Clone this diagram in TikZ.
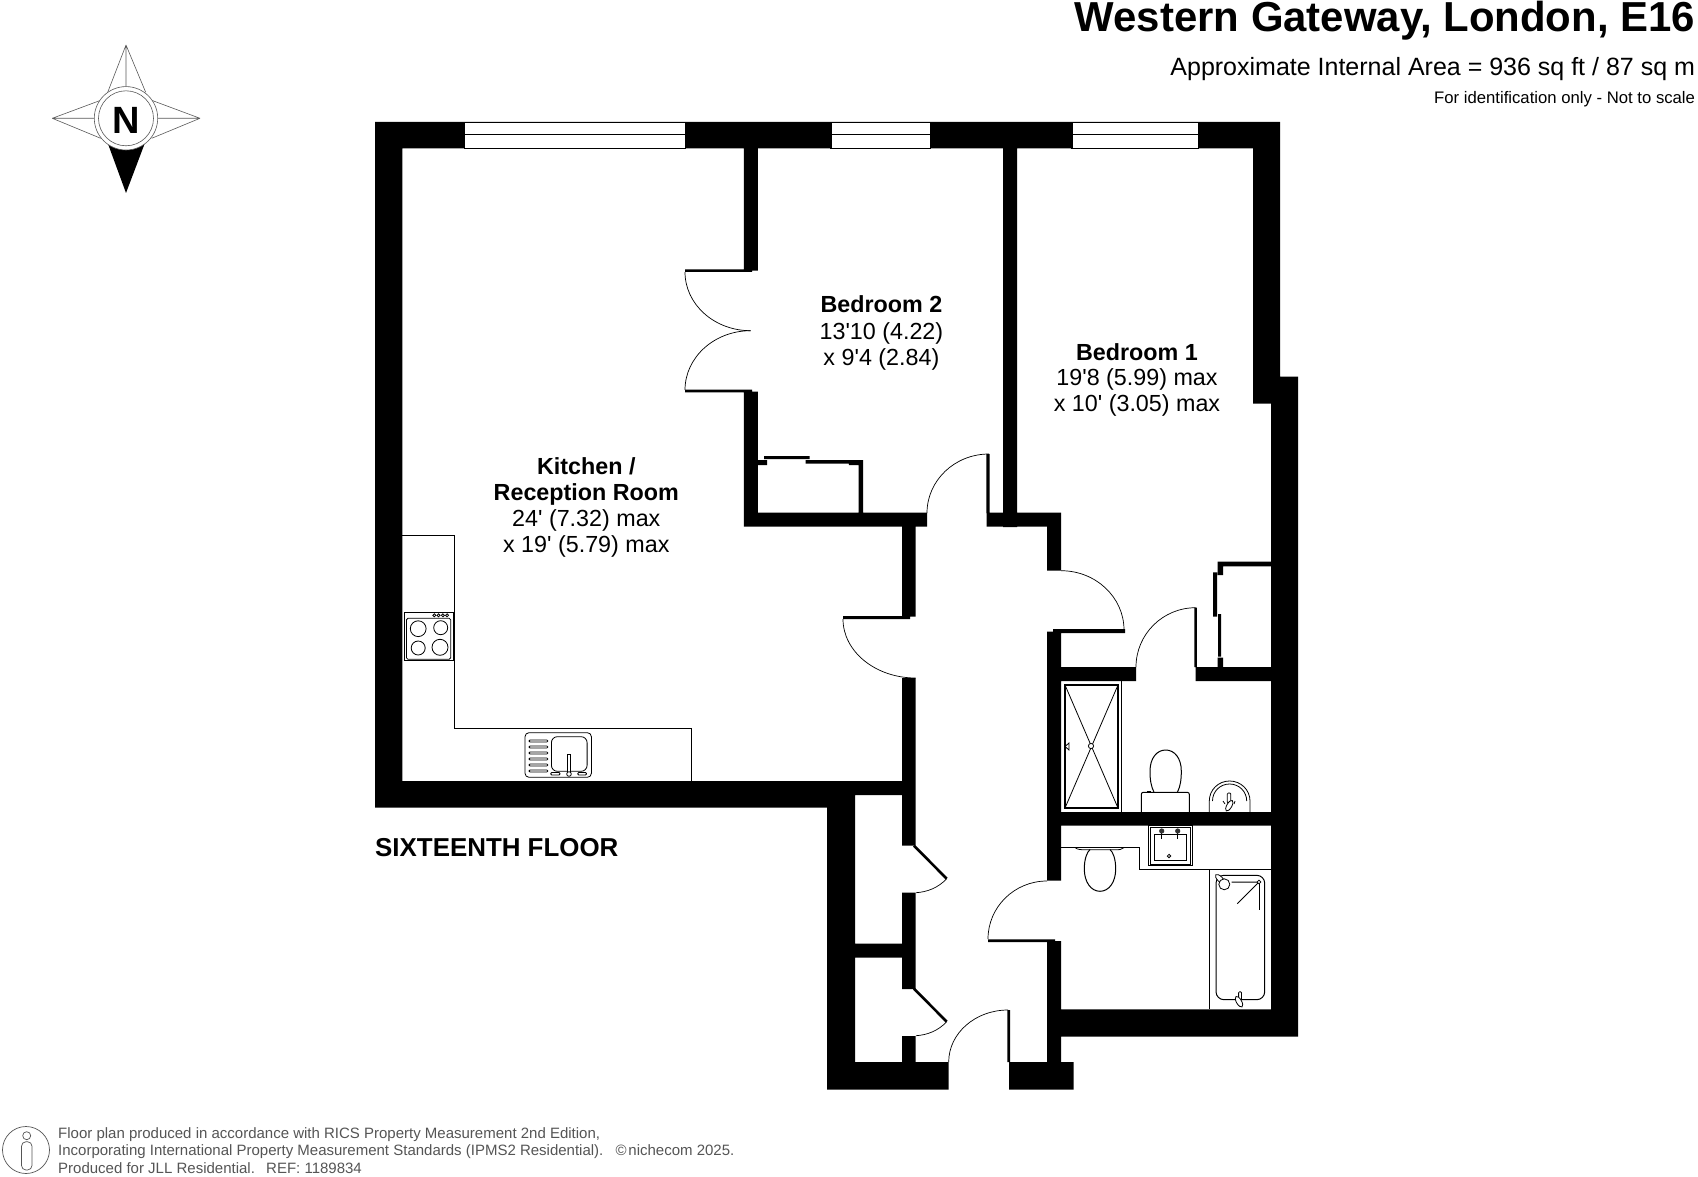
\documentclass[tikz,border=0pt]{standalone}
\usepackage{fontspec}
\usetikzlibrary{calc}
\newfontfamily\lib{Liberation Sans}
\newcommand{\fsz}[1]{\lib\fontsize{#1}{#1}\selectfont}
\tikzset{
  lbl/.style={inner sep=0pt,outer sep=0pt,anchor=base,font=\fsz{23.3}},
  lblb/.style={lbl,font=\fsz{23.3}\bfseries},
  ttl/.style={inner sep=0pt,outer sep=0pt,anchor=base east},
  foot/.style={inner sep=0pt,outer sep=0pt,anchor=base west,text=footgrey,font=\fsz{15}},
  thinl/.style={draw=black,line width=1pt},
  fine/.style={draw=black,line width=0.8pt},
  arcline/.style={draw=black,line width=0.7pt},
  leaf/.style={draw=black,line width=2.6pt},
  winl/.style={draw=black,fill=white,line width=1.1pt},
  star/.style={draw=black!65,line width=0.6pt},
}
\definecolor{footgrey}{HTML}{555555}
\newcommand{\qarc}[3]{\draw[arcline] (#1) .. controls ($(#1)!.5523!(#3)$) and ($(#2)!.5523!(#3)$) .. (#2);}
\begin{document}
\begin{tikzpicture}[x=1pt,y=-1pt]
\useasboundingbox (0,0) rectangle (1698,1177);
\fill[white] (0,0) rectangle (1698,1177);

% walls
\fill[black]
 (375.2,122) rectangle (1280,148.3)
 (375.2,122) rectangle (402.4,807.7)
 (375.2,781) rectangle (915.7,795)
 (375.2,781) rectangle (855,807.7)
 (827,795) rectangle (855,1089.7)
 (902,526.7) rectangle (915.7,616.7)
 (902,678) rectangle (915.7,845.7)
 (902,892.7) rectangle (915.7,989)
 (902,1036) rectangle (915.7,1062)
 (855,943.7) rectangle (902,957.7)
 (827,1062) rectangle (948.7,1089.7)
 (743.9,148) rectangle (757.8,270.7)
 (743.9,391.7) rectangle (757.8,526.7)
 (743.9,512.7) rectangle (927,526.7)
 (1003,148) rectangle (1017,527)
 (986.7,512.7) rectangle (1061,526.7)
 (1047,512.7) rectangle (1061,570.7)
 (1047,631.7) rectangle (1061,880.7)
 (1047,941) rectangle (1061,1089.7)
 (1009,1062) rectangle (1073.7,1089.7)
 (1047,1009.3) rectangle (1298,1036.7)
 (1253,122) rectangle (1280,403.7)
 (1271,376.7) rectangle (1298,1036.7)
 (1047,667) rectangle (1136,681)
 (1195.7,667) rectangle (1271,681)
 (1047,812) rectangle (1271,825.7)
 % door leaves and fitted cupboards
 (685,269.4) rectangle (752,272)
 (685,389.7) rectangle (752,392.3)
 (986.4,454) rectangle (989.6,513)
 (843,616) rectangle (910,619)
 (988,939.3) rectangle (1055,942)
 (1007.3,1010) rectangle (1010,1062)
 (1053,629) rectangle (1125,633)
 (1194.3,607.7) rectangle (1196.8,667)
 % bedroom 2 wardrobe
 (757,460) rectangle (767,465)
 (764,456) rectangle (809.6,459)
 (805.5,460) rectangle (848.8,463.7)
 (848.8,460) rectangle (863,465)
 (858.7,460) rectangle (863,513)
 % bedroom 1 wardrobe
 (1217.7,561.7) rectangle (1271,566.3)
 (1217.7,561.7) rectangle (1223,575)
 (1213,572.3) rectangle (1217,616.7)
 (1218,614) rectangle (1221,656.7)
 (1217.7,657.7) rectangle (1223,667);

% windows
\draw[winl] (464.5,122.5) rectangle (685.9,148.3); \draw[thinl] (464.5,135) -- (685.9,135);
\draw[winl] (831,122.5) rectangle (930.5,148.3); \draw[thinl] (831,135) -- (930.5,135);
\draw[winl] (1072,122.5) rectangle (1198.3,148.3); \draw[thinl] (1072,135) -- (1198.3,135);

% door arcs
\qarc{685,272}{750.6,330.7}{685,330.7}
\qarc{685,390}{750.6,330.7}{685,330.7}
\qarc{989,454}{927,513}{927,454}
\qarc{843,619}{915.7,678}{843,678}
\qarc{1008,1010}{948.7,1062}{948.7,1010}
\qarc{1047,881}{988,939}{988,881}
\qarc{1061,570.7}{1124,630}{1124,570.7}
\qarc{1195.7,607.7}{1136,667}{1136,607.7}
\draw[leaf] (914,845.7) -- (946.7,878.7);
\draw[leaf] (914,988.7) -- (946.7,1021.7);
\draw[arcline] (946.7,878.7) .. controls (938,888) and (927,892) .. (916,892.7);
\draw[arcline] (946.7,1021.7) .. controls (938,1031) and (927,1035) .. (916,1035.7);

% kitchen
\draw[thinl] (402.4,535.3) -- (454.3,535.3) -- (454.3,728.3) -- (691.8,728.3) -- (691.8,781);
\draw[fine] (404.3,612.3) rectangle (452.9,660.7);
\draw[fine,rounded corners=1.5pt] (406.4,618.3) rectangle (450.7,659.3);
\draw[fine] (418.2,628.7) circle[radius=7.9] (440.7,627.7) circle[radius=7] (418.2,648) circle[radius=7] (440,647.3) circle[radius=8];
\draw[fine] (434.3,615.3) circle[radius=1.5] (438.6,615.3) circle[radius=1.5] (442.9,615.3) circle[radius=1.5] (447.1,615.3) circle[radius=1.5];
\draw[fine,rounded corners=4pt] (525,732.7) rectangle (591.4,777.3);
\draw[fine,rounded corners=6pt] (551.4,736.7) rectangle (587.1,771.3);
\foreach \y in {740,746,752,758,764,770}
  \draw[fine,rounded corners=1pt] (529,\y) rectangle (547.9,\y+2);
\draw[fine,fill=white] (567.5,754) rectangle (570.5,773);
\draw[fine,fill=white] (569,774) circle[radius=2.3];
\draw[fine,rounded corners=1pt] (550.7,772.5) rectangle (560,775);
\draw[fine,rounded corners=1pt] (577.7,772.5) rectangle (586.5,775);

% shower room
\draw[thinl] (1121.7,681) -- (1121.7,812);
\draw[fine] (1064.3,684) rectangle (1118.7,808.7);
\draw[fine] (1065.5,685) rectangle (1117.5,807.5);
\draw[fine] (1065,685) -- (1118,808) (1118,685) -- (1065,808);
\draw[fine,fill=white] (1091,746) circle[radius=2.6];
\draw[fine] (1069,743) -- (1065,746.5) -- (1069,750) -- cycle;
\draw[thinl] (1154,792.3) .. controls (1151,786) and (1150,780) .. (1150,771) .. controls (1150,758) and (1157,750) .. (1165.7,750) .. controls (1174.4,750) and (1181.3,758) .. (1181.3,771) .. controls (1181.3,780) and (1180.4,786) .. (1177.4,792.3);
\draw[thinl,rounded corners=2pt] (1141.3,812) -- (1141.3,792.3) -- (1189.3,792.3) -- (1189.3,812);
\draw[thinl] (1147,791.3) -- (1151,791.3);
\draw[fine] (1209.3,812) -- (1209.3,801) .. controls (1209.3,789.8) and (1218.4,781) .. (1229.6,781) .. controls (1240.8,781) and (1250,789.8) .. (1250,801) -- (1250,812);
\draw[fine] (1212.5,801) .. controls (1212.5,791.5) and (1220,784) .. (1229.6,784) .. controls (1239,784) and (1246.7,791.5) .. (1246.7,801);
\draw[fine,fill=white,rounded corners=1pt] (1227.3,793) rectangle (1230.7,803);
\draw[fine,fill=white,rotate around={-30:(1229.3,805.7)}] (1229.3,805.7) ellipse[x radius=2.5,y radius=6];
\draw[fine] (1223,801) -- (1225,804) (1235,801) -- (1234,804);

% bathroom
\draw[thinl] (1061,847.3) -- (1139.3,847.3) -- (1139.3,869.3) -- (1271,869.3);
\draw[thinl] (1209.7,869.3) -- (1209.7,1009.3);
\draw[fine,fill=white] (1148.3,825.7) rectangle (1192.3,865.3);
\draw[fine] (1150,827) rectangle (1190.7,864);
\draw[fine] (1154.3,834) rectangle (1186,860.7);
\draw[fine] (1169,856) circle[radius=1.7];
\draw[thinl] (1161.7,830) -- (1161.7,839) (1177.7,830) -- (1177.7,839);
\fill[black!80] (1161.7,831) circle[radius=2.6] (1177.7,831) circle[radius=2.6];
\draw[thinl] (1090,849.5) .. controls (1087,852) and (1084.3,859) .. (1084.3,869) .. controls (1084.3,882) and (1091,891.3) .. (1100,891.3) .. controls (1109,891.3) and (1115.7,882) .. (1115.7,869) .. controls (1115.7,859) and (1113,852) .. (1110,849.5);
\draw[fine] (1075,847.5) .. controls (1077,849.8) and (1082,849.8) .. (1086,849.8) -- (1114,849.8) .. controls (1119,849.8) and (1122,849.8) .. (1124.3,847.5);
\draw[thinl,rounded corners=8pt] (1216,875.3) rectangle (1264.7,999.7);
\draw[fine,fill=white,rotate around={45:(1220,879)}] (1220,879) ellipse[x radius=2.6,y radius=6];
\draw[fine,fill=white] (1224.3,884.3) circle[radius=5.5];
\draw[thinl] (1231.7,882) -- (1259,882) -- (1237.3,903.7);
\draw[thinl] (1259,882) -- (1259,910);
\draw[fine,fill=white] (1259,882) circle[radius=1.9];
\draw[fine,fill=white,rounded corners=1pt] (1238.6,991.7) rectangle (1241.4,1000);
\draw[fine,fill=white,rotate around={30:(1239,1001.7)}] (1239,1001.7) ellipse[x radius=2.6,y radius=6];

% compass
\draw[star] (126,45) -- (107.7,92.3) (126,45) -- (145.7,92.3) (126,45) -- (126,88);
\draw[star] (52.3,118.3) -- (100.7,100.3) (52.3,118.3) -- (100.7,138.3) (52.3,118.3) -- (94,118.3);
\draw[star] (200,118.3) -- (151.7,100.3) (200,118.3) -- (151.7,138.3) (200,118.3) -- (158,118.3);
\fill[black] (107.3,142) -- (145.3,142) -- (126,193) -- cycle;
\draw[star,fill=white] (126,118.3) circle[radius=31.7];
\draw[star] (126,118.3) circle[radius=27.5];
\node[ttl,anchor=base,font=\fsz{38}\bfseries] (nlabel) at (126,133.3) {N};

% headings
\node[ttl,font=\fsz{41.9}\bfseries] (title) at (1695,31.7) {Western Gateway, London, E16};
\node[ttl,font=\fsz{25}] (area) at (1695,75.5) {Approximate Internal Area = 936 sq ft / 87 sq m};
\node[ttl,font=\fsz{16.7}] (scale) at (1695,104) {For identification only - Not to scale};

% rooms
\node[lblb] (kit1) at (586.3,474) {Kitchen /};
\node[lblb] (kit2) at (586.3,500) {Reception Room};
\node[lbl] (kit3) at (586.3,526.7) {24' (7.32) max};
\node[lbl] (kit4) at (586.3,552.7) {x 19' (5.79) max};
\node[lblb] (bedb1) at (881.4,312.7) {Bedroom 2};
\node[lbl] (bedb2) at (881.4,339.3) {13'10 (4.22)};
\node[lbl] (bedb3) at (881.4,365) {x 9'4 (2.84)};
\node[lblb] (beda1) at (1137,360) {Bedroom 1};
\node[lbl] (beda2) at (1137,385.7) {19'8 (5.99) max};
\node[lbl] (beda3) at (1137,411) {x 10' (3.05) max};
\node[inner sep=0pt,anchor=base west,font=\fsz{25.9}\bfseries] (floorname) at (375,856.5) {SIXTEENTH FLOOR};

% footer
\draw[footgrey,line width=0.7pt] (26,1150) circle[radius=23.5];
\draw[footgrey,line width=0.7pt] (26.7,1135.7) circle[radius=4];
\draw[footgrey,line width=0.7pt,rounded corners=4.5pt] (21.5,1141.7) rectangle (32,1170);
\node[foot] (f1) at (58.2,1138) {Floor plan produced in accordance with RICS Property Measurement 2nd Edition,};
\node[foot] (f2) at (58.2,1155.7) {Incorporating International Property Measurement Standards (IPMS2 Residential).};
\node[foot] (f4) at (615.6,1155.7) {©\hspace{0.12em}nichecom 2025.};
\node[foot] (f3) at (58.2,1173.3) {Produced for JLL Residential.\hspace{0.75em}REF: 1189834};
\end{tikzpicture}
\end{document}
